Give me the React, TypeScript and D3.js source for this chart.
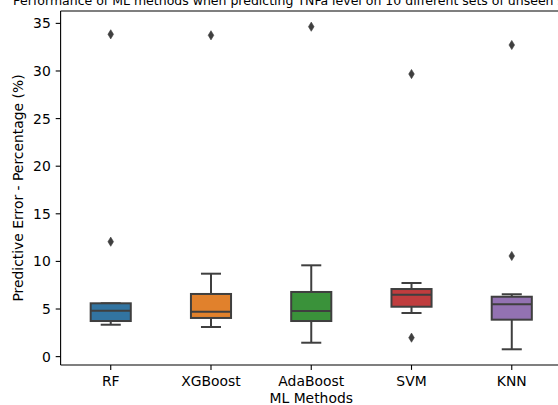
import React from "react";
import * as d3 from "d3";

// Prediction error (%) summary per method across 10 unseen sets
const methods = ["RF", "XGBoost", "AdaBoost", "SVM", "KNN"];
const whiskerLow = [3.35, 3.11, 1.46, 4.58, 0.77];
const q1 = [3.74, 4.06, 3.74, 5.24, 3.88];
const median = [4.82, 4.72, 4.79, 6.5, 5.5];
const q3 = [5.6, 6.58, 6.79, 7.1, 6.29];
const whiskerHigh = [5.6, 8.71, 9.59, 7.73, 6.55];
const outliers = [[33.85, 12.07], [33.75], [34.65], [29.68, 1.99], [32.73, 10.57]];
const yTicks = [0, 5, 10, 15, 20, 25, 30, 35];
const colors = ["#3274a1", "#e1812c", "#3a923a", "#c03d3e", "#9372b2"];

const W = 558;
const H = 405;
const left = 60.6;
const right = 561.9;
const top = 11;
const bottom = 365;
const font = "'DejaVu Sans', sans-serif";
const gray = "#3f3f3f";

export default function App() {
  const x = d3.scaleBand<string>().domain(methods).range([left, right]).padding(0);
  const y = d3.scaleLinear().domain([-0.88, 36.3]).range([bottom, top]);
  const bw = x.bandwidth();
  const boxW = bw * 0.4;
  const capW = boxW * 0.5;

  const diamond = (cx: number, cy: number) => {
    const h = 4.6, w = 2.8;
    return `M${cx},${cy - h}L${cx + w},${cy}L${cx},${cy + h}L${cx - w},${cy}Z`;
  };

  return (
    <svg
      width={W}
      height={H}
      style={{ position: "absolute", left: 0, top: 0, display: "block", background: "#fff" }}
      fontFamily={font}
    >
      <rect x={0} y={0} width={W} height={H} fill="#fff" />
      {/* title */}
      <text x={(left + right) / 2} y={5} fontSize={12.5} textAnchor="middle" fill="#000">
        Performance of ML methods when predicting TNFa level on 10 different sets of unseen samples
      </text>

      {/* boxes */}
      {methods.map((m, i) => {
        const cx = (x(m) as number) + bw / 2;
        return (
          <g key={m}>
            <line x1={cx} x2={cx} y1={y(q3[i])} y2={y(whiskerHigh[i])} stroke={gray} strokeWidth={2} />
            <line x1={cx} x2={cx} y1={y(q1[i])} y2={y(whiskerLow[i])} stroke={gray} strokeWidth={2} />
            <line x1={cx - capW / 2} x2={cx + capW / 2} y1={y(whiskerHigh[i])} y2={y(whiskerHigh[i])} stroke={gray} strokeWidth={2} />
            <line x1={cx - capW / 2} x2={cx + capW / 2} y1={y(whiskerLow[i])} y2={y(whiskerLow[i])} stroke={gray} strokeWidth={2} />
            <rect
              x={cx - boxW / 2}
              y={y(q3[i])}
              width={boxW}
              height={y(q1[i]) - y(q3[i])}
              fill={colors[i]}
              stroke={gray}
              strokeWidth={2}
            />
            <line x1={cx - boxW / 2} x2={cx + boxW / 2} y1={y(median[i])} y2={y(median[i])} stroke={gray} strokeWidth={2} />
            {outliers[i].map((v, j) => (
              <path key={j} d={diamond(cx, y(v))} fill={gray} stroke={gray} strokeWidth={0.6} />
            ))}
          </g>
        );
      })}

      {/* spines */}
      <line x1={left} x2={left} y1={top} y2={bottom} stroke="#000" strokeWidth={1.1} />
      <line x1={left} x2={right} y1={bottom} y2={bottom} stroke="#000" strokeWidth={1.1} />
      <line x1={left} x2={right} y1={top} y2={top} stroke="#000" strokeWidth={1.1} />
      <line x1={right} x2={right} y1={top} y2={bottom} stroke="#000" strokeWidth={1.1} />

      {/* y axis */}
      {yTicks.map((t) => (
        <g key={t}>
          <line x1={left - 4.9} x2={left} y1={y(t)} y2={y(t)} stroke="#000" strokeWidth={1.1} />
          <text x={left - 9.8} y={y(t)} dy="0.36em" fontSize={13.9} textAnchor="end" fill="#000">
            {t}
          </text>
        </g>
      ))}
      <text
        transform={`translate(23,${(top + bottom) / 2}) rotate(-90)`}
        fontSize={13.9}
        textAnchor="middle"
        fill="#000"
      >
        Predictive Error - Percentage (%)
      </text>

      {/* x axis */}
      {methods.map((m) => {
        const cx = (x(m) as number) + bw / 2;
        return (
          <g key={m}>
            <line x1={cx} x2={cx} y1={bottom} y2={bottom + 4.9} stroke="#000" strokeWidth={1.1} />
            <text x={cx} y={386} fontSize={13.9} textAnchor="middle" fill="#000">
              {m}
            </text>
          </g>
        );
      })}
      <text x={(left + right) / 2} y={403} fontSize={13.9} textAnchor="middle" fill="#000">
        ML Methods
      </text>
    </svg>
  );
}
